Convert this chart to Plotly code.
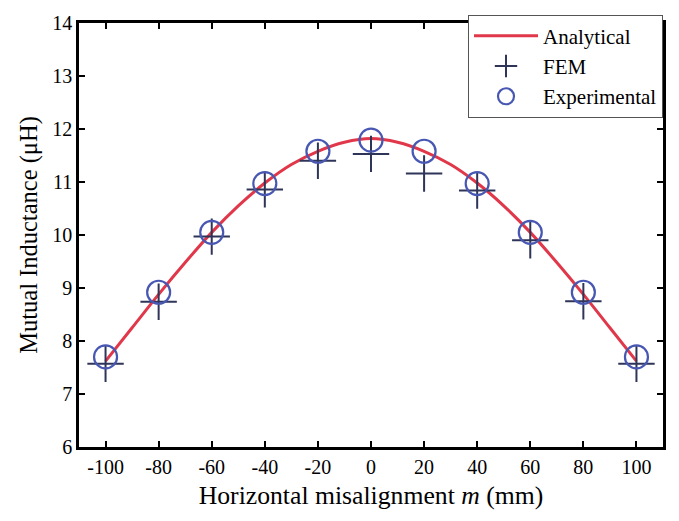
import plotly.graph_objects as go

# Data
m_pts = [-100, -80, -60, -40, -20, 0, 20, 40, 60, 80, 100]
fem = [7.57, 8.74, 9.97, 10.86, 11.40, 11.53, 11.16, 10.84, 9.90, 8.75, 7.57]
experimental = [7.70, 8.92, 10.05, 10.97, 11.58, 11.79, 11.58, 10.97, 10.05, 8.92, 7.70]

m_curve = [-100, -90, -80, -70, -60, -50, -40, -30, -20, -10, 0,
           10, 20, 30, 40, 50, 60, 70, 80, 90, 100]
analytical = [7.62, 8.25, 8.88, 9.48, 10.05, 10.55, 10.98, 11.33, 11.58, 11.75, 11.82,
              11.75, 11.58, 11.33, 10.98, 10.55, 10.05, 9.48, 8.88, 8.25, 7.62]

x_ticks = [-100, -80, -60, -40, -20, 0, 20, 40, 60, 80, 100]
y_ticks = [6, 7, 8, 9, 10, 11, 12, 13, 14]

font_family = "Liberation Serif, Times New Roman, serif"

fig = go.Figure()
fig.add_trace(go.Scatter(
    x=m_curve, y=analytical, mode="lines", name="Analytical",
    line=dict(color="#E0384A", width=3, shape="spline"),
))
fig.add_trace(go.Scatter(
    x=m_pts, y=fem, mode="markers", name="FEM",
    marker=dict(symbol="cross-thin-open", size=26, color="#2F3558",
                line=dict(color="#2F3558", width=2)),
))
fig.add_trace(go.Scatter(
    x=m_pts, y=experimental, mode="markers", name="Experimental",
    marker=dict(symbol="circle-open", size=23, color="#4858B2",
                line=dict(color="#4858B2", width=2.2)),
))

axis_common = dict(
    showline=True, linecolor="black", linewidth=2.5, mirror="ticks",
    ticks="inside", ticklen=6, tickwidth=2, tickcolor="black",
    showgrid=False, zeroline=False,
    tickfont=dict(family=font_family, size=20, color="black"),
)

fig.update_layout(
    width=679, height=521,
    margin=dict(l=79, r=16, t=14, b=74),
    paper_bgcolor="white", plot_bgcolor="white",
    font=dict(family=font_family, size=20, color="black"),
    xaxis=dict(range=[-110, 110], tickvals=x_ticks,
               ticktext=[str(v) for v in x_ticks],
               title=dict(text="Horizontal misalignment <i>m</i> (mm)",
                          font=dict(family=font_family, size=25.7), standoff=10),
               **axis_common),
    yaxis=dict(range=[6, 14], tickvals=y_ticks,
               title=dict(text="Mutual Inductance (μH)",
                          font=dict(family=font_family, size=24.5), standoff=8),
               **axis_common),
    legend=dict(x=1, y=1.02, xanchor="right", yanchor="top",
                bgcolor="white", bordercolor="#555555", borderwidth=1,
                font=dict(family=font_family, size=21, color="black"),
                tracegroupgap=0, itemsizing="trace", itemwidth=64),
    showlegend=True,
)

fig.write_html("out.html")
